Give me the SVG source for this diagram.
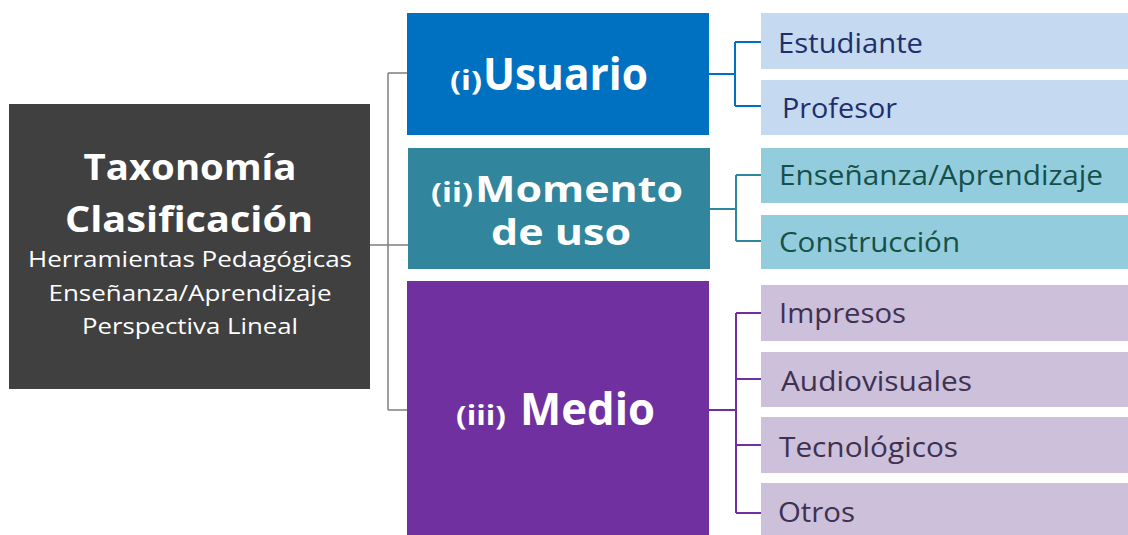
<svg xmlns="http://www.w3.org/2000/svg" width="1128" height="535" viewBox="0 0 1128 535">
<style>
text{font-family:"Open Sans","Noto Sans","DejaVu Sans",sans-serif}
.w{fill:#ffffff}
.b{font-weight:bold}
.leaf{font-size:27px}
.lb{fill:#1F2F6B}
.lt{fill:#16504A}
.lp{fill:#3F3151}
.c0{fill:none;stroke:#7F7F7F;stroke-width:1.5}
.c1{fill:none;stroke:#0070C0;stroke-width:2}
.c2{fill:none;stroke:#31859C;stroke-width:2}
.c3{fill:none;stroke:#7030A0;stroke-width:2}
</style>
<rect width="1128" height="535" fill="#ffffff"/>
<g id="connectors">
<path class="c0" d="M370,245 H408 M388,73 V410 M388,73 H408 M388,410 H408"/>
<path class="c1" d="M709,74 H735 M735,42 V106 M735,42 H761 M735,106 H761"/>
<path class="c2" d="M710,209 H736 M736,175 V241 M736,175 H761 M736,241 H761"/>
<path class="c3" d="M709,410 H736 M736,313 V513 M736,313 H761 M736,379 H761 M736,445 H761 M736,513 H761"/>
</g>
<g id="root">
<rect x="9" y="104" width="361" height="285" fill="#404040"/>
<text class="w b" x="190" y="180" font-size="35" text-anchor="middle" textLength="213" lengthAdjust="spacingAndGlyphs">Taxonomía</text>
<text class="w b" x="189" y="232" font-size="35" text-anchor="middle" textLength="248" lengthAdjust="spacingAndGlyphs">Clasificación</text>
<text class="w" x="190" y="267" font-size="22" text-anchor="middle" textLength="324" lengthAdjust="spacingAndGlyphs">Herramientas Pedagógicas</text>
<text class="w" x="190" y="301" font-size="22" text-anchor="middle" textLength="283" lengthAdjust="spacingAndGlyphs">Enseñanza/Aprendizaje</text>
<text class="w" x="190" y="334" font-size="22" text-anchor="middle" textLength="216" lengthAdjust="spacingAndGlyphs">Perspectiva Lineal</text>
</g>
<g id="usuario">
<rect x="407" y="13" width="302" height="122" fill="#0070C0"/>
<text class="w b" x="450" y="90" font-size="26" textLength="32" lengthAdjust="spacingAndGlyphs">(i)</text>
<text class="w b" x="483" y="90" font-size="44" textLength="165" lengthAdjust="spacingAndGlyphs">Usuario</text>
</g>
<g id="momento">
<rect x="408" y="148" width="302" height="121" fill="#31859C"/>
<text class="w b" x="431" y="202" font-size="26" textLength="42" lengthAdjust="spacingAndGlyphs">(ii)</text>
<text class="w b" x="475" y="202" font-size="36" textLength="208" lengthAdjust="spacingAndGlyphs">Momento</text>
<text class="w b" x="491" y="245" font-size="36" textLength="140" lengthAdjust="spacingAndGlyphs">de uso</text>
</g>
<g id="medio">
<rect x="407" y="281" width="302" height="254" fill="#7030A0"/>
<text class="w b" x="456" y="425" font-size="26" textLength="50" lengthAdjust="spacingAndGlyphs">(iii)</text>
<text class="w b" x="520" y="425" font-size="44" textLength="135" lengthAdjust="spacingAndGlyphs">Medio</text>
</g>
<g id="estudiante">
<rect x="761" y="13" width="367" height="56" fill="#C5D9F1"/>
<text class="leaf lb" x="778" y="53" textLength="145" lengthAdjust="spacingAndGlyphs">Estudiante</text>
</g>
<g id="profesor">
<rect x="761" y="80" width="367" height="55" fill="#C5D9F1"/>
<text class="leaf lb" x="782" y="118" textLength="115" lengthAdjust="spacingAndGlyphs">Profesor</text>
</g>
<g id="ensenanza">
<rect x="761" y="148" width="367" height="55" fill="#93CDDD"/>
<text class="leaf lt" x="779" y="185" textLength="324" lengthAdjust="spacingAndGlyphs">Enseñanza/Aprendizaje</text>
</g>
<g id="construccion">
<rect x="761" y="215" width="367" height="54" fill="#93CDDD"/>
<text class="leaf lt" x="779" y="252" textLength="181" lengthAdjust="spacingAndGlyphs">Construcción</text>
</g>
<g id="impresos">
<rect x="761" y="285" width="367" height="56" fill="#CCC0DA"/>
<text class="leaf lp" x="779" y="323" textLength="127" lengthAdjust="spacingAndGlyphs">Impresos</text>
</g>
<g id="audiovisuales">
<rect x="761" y="352" width="367" height="55" fill="#CCC0DA"/>
<text class="leaf lp" x="781" y="391" textLength="191" lengthAdjust="spacingAndGlyphs">Audiovisuales</text>
</g>
<g id="tecnologicos">
<rect x="761" y="417" width="367" height="56" fill="#CCC0DA"/>
<text class="leaf lp" x="779" y="457" textLength="179" lengthAdjust="spacingAndGlyphs">Tecnológicos</text>
</g>
<g id="otros">
<rect x="761" y="483" width="367" height="52" fill="#CCC0DA"/>
<text class="leaf lp" x="778" y="522" textLength="77" lengthAdjust="spacingAndGlyphs">Otros</text>
</g>
</svg>
